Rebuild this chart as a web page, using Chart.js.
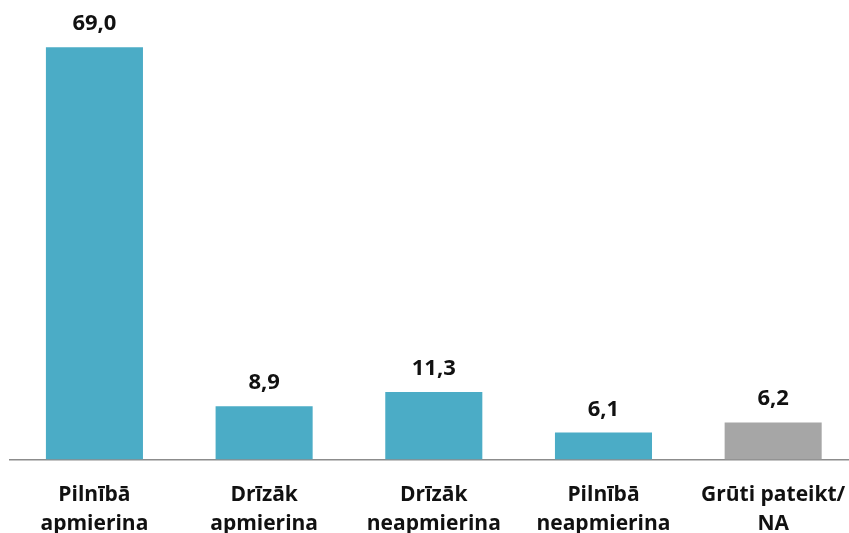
<!DOCTYPE html>
<html>
<head>
<meta charset="utf-8">
<script src="https://cdn.jsdelivr.net/npm/chart.js@4"></script>
<style>
  html, body { margin: 0; padding: 0; background: #fff; overflow: hidden; }
  #wrap { width: 869px; height: 533px; }
</style>
</head>
<body>
<div id="wrap"><canvas id="c" width="869" height="533"></canvas></div>
<script>
// Categories (two-line labels)
const categories = [
  ["Pilnībā", "apmierina"],
  ["Drīzāk", "apmierina"],
  ["Drīzāk", "neapmierina"],
  ["Pilnībā", "neapmierina"],
  ["Grūti pateikt/", "NA"]
];
// Bar heights as drawn in the picture
const barValues = [69.0, 8.9, 11.3, 4.5, 6.2];
// Value labels as printed above the bars
const valueLabels = ["69,0", "8,9", "11,3", "6,1", "6,2"];
const barColors = ["#4BACC6", "#4BACC6", "#4BACC6", "#4BACC6", "#A6A6A6"];

const valueLabelPlugin = {
  id: 'valueLabels',
  afterDatasetsDraw(chart) {
    const ctx = chart.ctx;
    const meta = chart.getDatasetMeta(0);
    ctx.save();
    ctx.font = 'bold 22px "Open Sans"';
    ctx.fillStyle = '#111';
    ctx.textAlign = 'center';
    ctx.textBaseline = 'alphabetic';
    meta.data.forEach((el, i) => {
      ctx.fillText(valueLabels[i], el.x, el.y - 17);
    });
    ctx.restore();
  }
};

new Chart(document.getElementById('c'), {
  type: 'bar',
  data: {
    labels: categories,
    datasets: [{
      data: barValues,
      backgroundColor: barColors,
      borderWidth: 0,
      categoryPercentage: 1.0,
      barPercentage: 0.572
    }]
  },
  options: {
    responsive: false,
    animation: false,
    layout: { padding: { left: 9.6, right: 11, top: 0, bottom: -26 } },
    plugins: { legend: { display: false }, tooltip: { enabled: false } },
    scales: {
      x: {
        grid: { display: false, drawTicks: false },
        border: { display: true, color: '#8c8c8c', width: 1.5 },
        ticks: {
          color: '#111',
          padding: 21,
          maxRotation: 0,
          autoSkip: false,
          font: { family: '"Open Sans"', size: 21, weight: 'bold', lineHeight: 1.37 }
        }
      },
      y: {
        display: false,
        min: 0,
        max: 76.9
      }
    }
  },
  plugins: [valueLabelPlugin]
});
</script>
</body>
</html>
